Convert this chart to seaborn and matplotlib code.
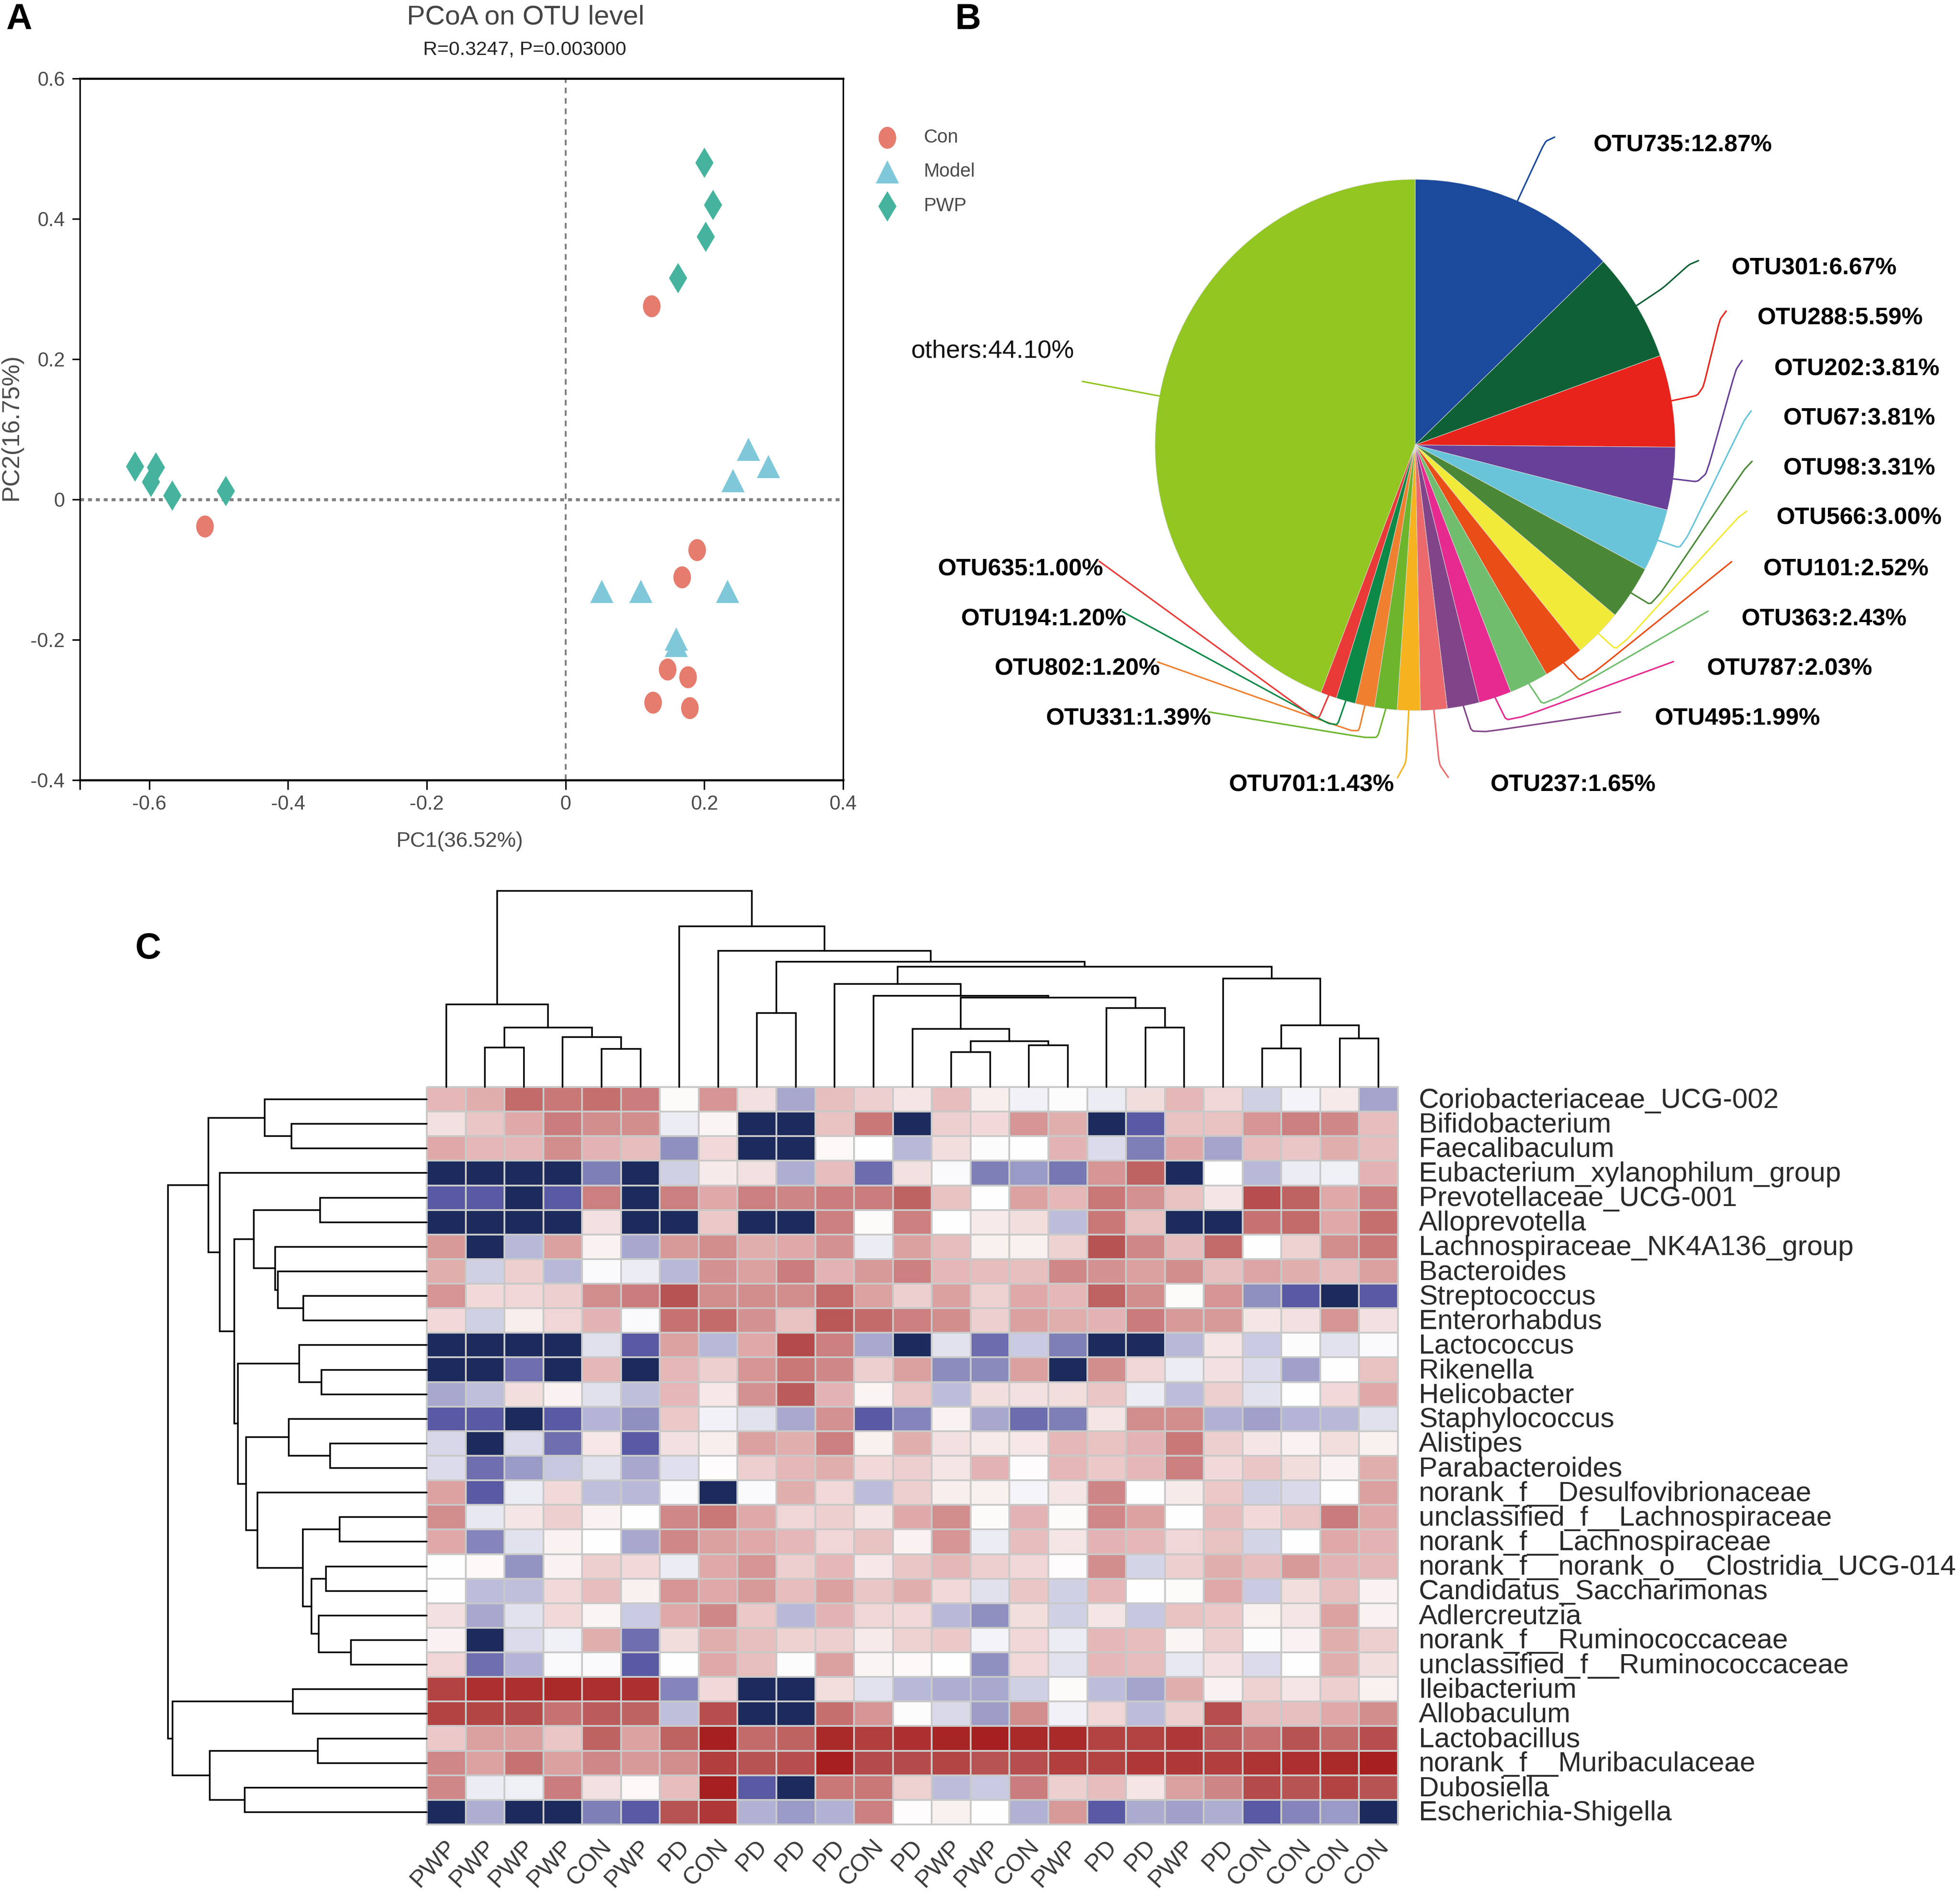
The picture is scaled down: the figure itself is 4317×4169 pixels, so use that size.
import matplotlib
matplotlib.use("Agg")
import numpy as np
import pandas as pd
import seaborn as sns
import matplotlib.pyplot as plt
from matplotlib.colors import LinearSegmentedColormap
from matplotlib.path import Path
from matplotlib.transforms import Affine2D, ScaledTranslation

# ---------- Panel A data ----------
con_pc1 = [0.124, -0.520, 0.189, 0.168, 0.147, 0.176, 0.126, 0.179]
con_pc2 = [0.276, -0.038, -0.072, -0.111, -0.242, -0.253, -0.289, -0.297]
model_pc1 = [0.263, 0.292, 0.241, 0.052, 0.108, 0.233, 0.159, 0.159]
model_pc2 = [0.072, 0.047, 0.027, -0.131, -0.131, -0.131, -0.199, -0.208]
pwp_pc1 = [0.200, 0.212, 0.202, 0.162, -0.621, -0.591, -0.598, -0.567, -0.490]
pwp_pc2 = [0.480, 0.420, 0.375, 0.316, 0.047, 0.046, 0.025, 0.006, 0.012]

# ---------- Panel B data ----------
pie_names = ["OTU735", "OTU301", "OTU288", "OTU202", "OTU67", "OTU98", "OTU566", "OTU101", "OTU363",
             "OTU787", "OTU495", "OTU237", "OTU701", "OTU331", "OTU802", "OTU194", "OTU635", "others"]
pie_values = [12.87, 6.67, 5.59, 3.81, 3.81, 3.31, 3.00, 2.52, 2.43,
              2.03, 1.99, 1.65, 1.43, 1.39, 1.20, 1.20, 1.00, 44.10]
pie_colors = ["#1b499c", "#0f6135", "#e8231b", "#674098", "#68c5d9", "#4a8837", "#f1ea38", "#ea4e17", "#70bd6d",
              "#e72a90", "#824488", "#ec6a6c", "#f6b31f", "#6cb52c", "#ef8030", "#0d8947", "#e93a38", "#92c620"]

# ---------- Panel C data ----------
taxa = ["Coriobacteriaceae_UCG-002", "Bifidobacterium", "Faecalibaculum", "Eubacterium_xylanophilum_group",
        "Prevotellaceae_UCG-001", "Alloprevotella", "Lachnospiraceae_NK4A136_group", "Bacteroides",
        "Streptococcus", "Enterorhabdus", "Lactococcus", "Rikenella", "Helicobacter", "Staphylococcus",
        "Alistipes", "Parabacteroides", "norank_f__Desulfovibrionaceae", "unclassified_f__Lachnospiraceae",
        "norank_f__Lachnospiraceae", "norank_f__norank_o__Clostridia_UCG-014", "Candidatus_Saccharimonas",
        "Adlercreutzia", "norank_f__Ruminococcaceae", "unclassified_f__Ruminococcaceae", "Ileibacterium",
        "Allobaculum", "Lactobacillus", "norank_f__Muribaculaceae", "Dubosiella", "Escherichia-Shigella"]
samples = ["PWP", "PWP", "PWP", "PWP", "CON", "PWP", "PD", "CON", "PD", "PD", "PD", "CON", "PD",
           "PWP", "PWP", "CON", "PWP", "PD", "PD", "PWP", "PD", "CON", "CON", "CON", "CON"]
heat_values = [
    [.30, .33, .62, .55, .60, .52, .02, .42, .12, -.38, .27, .20, .10, .28, .07, -.06, -.01, -.08, .14, .30, .17, -.20, -.05, .08, -.40],
    [.12, .24, .35, .52, .45, .45, -.08, .04, -1, -1, .25, .55, -1, .20, .15, .42, .33, -1, -.80, .25, .25, .42, .50, .47, .28],
    [.35, .30, .30, .45, .32, .28, -.50, .15, -1, -1, .03, .00, -.30, .13, -.01, .00, .32, -.15, -.58, .35, -.40, .28, .23, .33, .28],
    [-1, -1, -1, -1, -.58, -1, -.20, .08, .12, -.35, .28, -.68, .12, -.03, -.58, -.45, -.62, .42, .65, -1, .00, -.30, -.08, -.07, .32],
    [-.80, -.80, -1, -.80, .50, -1, .50, .35, .50, .48, .52, .52, .65, .25, .00, .37, .30, .55, .43, .25, .10, .75, .65, .35, .52],
    [-1, -1, -1, -1, .12, -1, -1, .22, -1, -1, .50, .02, .50, .00, .08, .13, -.28, .55, .25, -1, -1, .58, .62, .35, .60],
    [.40, -1, -.30, .38, .05, -.38, .40, .45, .33, .35, .43, -.08, .38, .28, .06, .06, .18, .72, .47, .28, .62, .00, .18, .45, .55],
    [.33, -.20, .20, -.30, -.02, -.08, -.30, .43, .38, .52, .32, .40, .50, .30, .28, .27, .47, .43, .38, .45, .27, .36, .33, .28, .38],
    [.42, .15, .17, .20, .45, .52, .72, .45, .45, .45, .62, .37, .20, .38, .18, .35, .30, .65, .45, .02, .42, -.50, -.80, -1, -.80],
    [.15, -.20, .07, .17, .32, -.02, .58, .62, .43, .25, .70, .62, .50, .45, .20, .38, .33, .32, .53, .40, .40, .10, .12, .42, .12],
    [-1, -1, -1, -1, -.13, -.80, .37, -.30, .35, .78, .50, -.37, -1, -.12, -.68, -.22, -.58, -1, -1, -.30, .10, -.22, -.01, -.12, -.02],
    [-1, -1, -.67, -1, .30, -1, .30, .20, .42, .55, .47, .20, .38, -.52, -.53, .38, -1, .45, .17, -.08, .12, -.15, -.42, .00, .25],
    [-.38, -.27, .13, .05, -.13, -.27, .30, .09, .43, .68, .32, .04, .24, -.28, .13, .12, .13, .24, -.08, -.28, .20, -.12, .00, .15, .35],
    [-.80, -.80, -1, -.80, -.32, -.50, .22, -.06, -.12, -.37, .43, -.80, -.55, .05, -.38, -.68, -.58, .10, .45, .45, -.33, -.42, -.32, -.30, -.13],
    [-.17, -1, -.15, -.67, .09, -.80, .12, .07, .38, .33, .50, .06, .33, .12, .08, .09, .30, .25, .32, .55, .20, .10, .05, .13, .06],
    [-.15, -.67, -.45, -.23, -.12, -.38, -.14, .01, .20, .30, .33, .15, .20, .10, .32, .01, .30, .22, .30, .50, .15, .23, .14, .05, .33],
    [.37, -.80, -.08, .15, -.27, -.30, -.02, -1, -.02, .33, .15, -.28, .20, .07, .06, -.04, .10, .48, .00, .08, .22, -.20, -.16, .00, .38],
    [.45, -.10, .10, .20, .05, .00, .47, .55, .35, .17, .20, .10, .35, .45, .02, .32, .02, .47, .37, .00, .28, .15, .24, .53, .35],
    [.35, -.55, -.12, .05, .00, -.38, .47, .38, .35, .30, .17, .25, .05, .42, -.08, .28, .10, .32, .30, .17, .25, -.18, .00, .35, .32],
    [.00, .03, -.48, .05, .20, .15, -.08, .35, .42, .20, .30, .09, .23, .30, .20, .17, .01, .45, -.18, .20, .33, .28, .40, .32, .30],
    [.00, -.28, -.27, .15, .28, .06, .42, .35, .40, .28, .38, .23, .33, .15, -.13, .24, -.20, .30, .00, .02, .35, -.22, .13, .27, .05],
    [.12, -.38, -.12, .15, .04, -.22, .35, .47, .22, -.30, .32, .17, .15, -.30, -.50, .13, -.20, .10, -.24, .25, .22, .06, .10, .37, .05],
    [.05, -1, -.15, -.07, .33, -.67, .14, .33, .27, .18, .20, .08, .18, .22, -.05, .17, -.08, .30, .28, .04, .20, -.01, .05, .33, .20],
    [.17, -.67, -.32, -.03, -.02, -.80, .00, .35, .27, -.01, .38, .04, .03, .00, -.50, .15, -.12, .30, .28, -.10, .12, -.15, .00, .33, .13],
    [.82, .92, .92, .95, .92, .92, -.55, .15, -1, -1, .13, -.12, -.30, -.35, -.37, -.20, .02, -.28, -.40, .33, .05, .18, .10, .20, .06],
    [.82, .80, .78, .58, .68, .65, -.27, .75, -1, -1, .60, .42, -.01, -.16, -.43, .45, -.06, .17, -.28, .20, .75, .27, .27, .35, .45],
    [.22, .38, .38, .24, .65, .37, .65, 1, .62, .65, .95, .85, .92, .97, 1, .95, .95, .82, .82, .88, .68, .58, .72, .62, .75],
    [.47, .37, .58, .38, .47, .40, .45, .85, .72, .75, 1, .78, .78, .80, .72, .75, .85, .82, .88, .88, .85, .90, .92, .95, 1],
    [.47, -.08, -.07, .52, .12, .03, .28, 1, -.80, -1, .55, .55, .18, -.28, -.22, .52, .20, .28, .10, .38, .48, .78, .72, .82, .72],
    [-1, -.35, -1, -1, -.58, -.80, .72, .88, -.33, -.45, -.33, .50, .01, .06, .00, -.33, .40, -.80, -.36, -.42, -.35, -.80, -.55, -.45, -1],
]

# Dendrograms: (merge height, left child, right child); ints are leaf indices
col_tree = (432,
            (182, 0, (131, (87, 1, 2), (110, 3, (84, 4, 5)))),
            (354, 6, (300, 7, (276, (163, 8, 9),
                (265,
                 (227, 10, (201, 11, (197,
                     (128, 12, (101, (77, 13, 14), (92, 15, 16))),
                     (174, 17, (131, 18, 19))))),
                 (239, 20, (136, (85, 21, 22), (107, 23, 24))))))))
row_tree = (570,
            (481,
             (357, 0, (298, 1, 2)),
             (456, 3, (424,
                 (381, (235, 4, 5), (334, 6, (328, 7, (272, 8, 9)))),
                 (416,
                  (281, 10, (232, 11, 12)),
                  (398,
                   (304, 13, (213, 14, 15)),
                   (373, 16, (273, (192, 17, 18),
                       (254, (222, 19, 20), (238, 21, (167, 22, 23)))))))))),
            (560,
             (295, 24, 25),
             (478, (240, 26, 27), (401, 28, 29))))

# ---------- Layout (pixels in the 4317x4169 canvas) ----------
W, H = 4317, 4169
DPI = 300
sns.set_theme(style="white")
plt.rcParams["font.family"] = ["Liberation Sans", "DejaVu Sans"]
plt.rcParams["axes.unicode_minus"] = False
fig = plt.figure(figsize=(W / DPI, H / DPI), dpi=DPI, facecolor="white")


def px_axes(l, t, r, b, **kw):
    return fig.add_axes([l / W, 1 - b / H, (r - l) / W, (b - t) / H], **kw)


overlay = px_axes(0, 0, W, H, facecolor="none")
overlay.set_xlim(0, W)
overlay.set_ylim(H, 0)
overlay.axis("off")
overlay.set_zorder(10)

# ---------- Panel A ----------
ax = px_axes(176, 173, 1857, 1718)
GREY = "#4a4a4a"
tall_circle = Path.unit_circle().transformed(Affine2D().scale(0.84, 1.05))
sns.scatterplot(x=con_pc1, y=con_pc2, ax=ax, color="#e57c6e", marker=tall_circle, s=135, linewidth=0, label="Con", zorder=3)
sns.scatterplot(x=model_pc1, y=model_pc2, ax=ax, color="#7fc8da", marker="^", s=150, linewidth=0, label="Model", zorder=3)
sns.scatterplot(x=pwp_pc1, y=pwp_pc2, ax=ax, color="#45b39d", marker="d", s=128, linewidth=0, label="PWP", zorder=3)
ax.axhline(0, color="#808080", lw=1.6, ls=(0, (1.3, 1.3)), zorder=1)
ax.axvline(0, color="#808080", lw=1.0, ls=(0, (3, 2.5)), zorder=1)
ax.set_xlim(-0.7, 0.4)
ax.set_ylim(-0.4, 0.6)
ax.set_xticks([-0.7, -0.6, -0.4, -0.2, 0, 0.2, 0.4])
ax.set_xticklabels(["", "-0.6", "-0.4", "-0.2", "0", "0.2", "0.4"])
ax.set_yticks([-0.4, -0.2, 0, 0.2, 0.4, 0.6])
ax.set_yticklabels(["-0.4", "-0.2", "0", "0.2", "0.4", "0.6"])
ax.tick_params(axis="x", length=5, width=0.8, color="black", labelcolor=GREY, labelsize=10.5, pad=3, bottom=True)
ax.tick_params(axis="y", length=4, width=0.8, color="black", labelcolor=GREY, labelsize=10.5, pad=4, left=True)
for name, sp in ax.spines.items():
    sp.set_visible(True)
    sp.set_color("black")
    sp.set_linewidth(1.1 if name in ("top", "bottom") else 0.8)
handles, labels = ax.get_legend_handles_labels()
ax.legend(handles, labels, loc="upper left", bbox_to_anchor=(1912 / W, 1 - 283 / H), bbox_transform=fig.transFigure,
          frameon=False, fontsize=10, labelcolor=GREY, labelspacing=0.85, borderpad=0, borderaxespad=0,
          handlelength=2, handletextpad=0.95, scatterpoints=1)
overlay.text(1158, 38, "PCoA on OTU level", fontsize=14.5, color="#444444", ha="center", va="center")
overlay.text(1156, 109, "R=0.3247, P=0.003000", fontsize=10.4, color="#222222", ha="center", va="center")
overlay.text(1012, 1853, "PC1(36.52%)", fontsize=11.2, color=GREY, ha="center", va="center")
overlay.text(25, 940, "PC2(16.75%)", fontsize=12.9, color=GREY, ha="center", va="center", rotation=90)

# ---------- Panel B ----------
CX, CY, RX, RY = 3117, 980, 573, 585
pad = 1.05
axp = px_axes(CX - RX * pad, CY - RY * pad, CX + RX * pad, CY + RY * pad)
axp.pie(pie_values, colors=pie_colors, startangle=90, counterclock=False, radius=1,
        wedgeprops=dict(linewidth=0.25, edgecolor="#dddddd"))
axp.set_aspect("auto")
axp.set_xlim(-pad, pad)
axp.set_ylim(-pad, pad)

# leader-line routing and label placement (canvas pixels; annotation layout)
leader_via = [
    [(3403, 312), (3424, 302)],
    [(3663, 634), (3720, 583), (3741, 574)],
    [(3738, 871), (3752, 851), (3788, 704), (3802, 685)],
    [(3738, 1061), (3759, 1042), (3823, 815), (3837, 794)],
    [(3704, 1208), (3841, 927), (3857, 905)],
    [(3639, 1334), (3841, 1035), (3859, 1016)],
    [(3562, 1433), (3827, 1141), (3847, 1126)],
    [(3484, 1503), (3814, 1237)],
    [(3400, 1555), (3762, 1346)],
    [(3320, 1591), (3686, 1457)],
    [(3243, 1616), (3569, 1568)],
    [(3170, 1683), (3190, 1712)],
    [(3097, 1678), (3078, 1713)],
    [(3034, 1624), (3004, 1624), (2663, 1568)],
    [(2993, 1609), (2975, 1609), (2550, 1458)],
    [(2946, 1596), (2924, 1593), (2472, 1347)],
    [(2905, 1581), (2891, 1578), (2421, 1236)],
    [(2384, 840)],
]
label_xy = [(3510, 315), (3814, 586), (3871, 696), (3908, 808), (3928, 917), (3928, 1027), (3913, 1136),
            (3884, 1249), (3836, 1359), (3760, 1468), (3645, 1578), (3283, 1724), (2707, 1724), (2304, 1578),
            (2191, 1468), (2117, 1359), (2066, 1249), (2007, 768)]


def smooth(pts, n=2, cut=0.1):
    pts = np.asarray(pts, float)
    for _ in range(n):
        q = (1 - cut) * pts[:-1] + cut * pts[1:]
        r = cut * pts[:-1] + (1 - cut) * pts[1:]
        mid = np.empty((2 * len(q), 2))
        mid[0::2], mid[1::2] = q, r
        pts = np.vstack([pts[0], mid, pts[-1]])
    return pts


mids = (np.cumsum(pie_values) - np.asarray(pie_values) / 2) / 100 * 2 * np.pi
for name, val, col, m, via, (lx, ly) in zip(pie_names, pie_values, pie_colors, mids, leader_via, label_xy):
    rim = (CX + RX * np.sin(m), CY - RY * np.cos(m))
    line = smooth([rim] + via)
    overlay.plot(line[:, 0], line[:, 1], color=col, lw=0.8, solid_capstyle="round")
    others = name == "others"
    overlay.text(lx, ly + 5, f"{name}:{val:.2f}%", fontsize=13.4 if others else 12.6, ha="left", va="center",
                 color="#111111" if others else "black", fontweight="normal" if others else "bold")

# ---------- Panel C ----------
cell_stops = [(-1, "#1c2b5c"), (-.8, "#5a5aa5"), (-.65, "#7272b2"), (-.5, "#9090c0"), (-.3, "#b8b8d8"),
              (-.2, "#d0d0e5"), (0, "#ffffff"), (.1, "#f5e5e5"), (.3, "#e5b8b8"), (.4, "#d89a9a"), (.5, "#cc8080"),
              (.6, "#c66f6f"), (.7, "#ba5858"), (.9, "#ae3434"), (1, "#a62020")]
cmap = LinearSegmentedColormap.from_list("pdheat", [((v + 1) / 2, c) for v, c in cell_stops])
HL, HT, HR, HB = 940, 2394, 3079, 4018
axh = px_axes(HL, HT, HR, HB)
frame = pd.DataFrame(heat_values, index=taxa)
sns.heatmap(frame, ax=axh, cmap=cmap, vmin=-1, vmax=1, cbar=False, linewidths=0.9, linecolor="#c9c9c9",
            xticklabels=samples, yticklabels=taxa, square=False, clip_on=False)
axh.yaxis.tick_right()
axh.tick_params(axis="y", length=0, pad=11, labelsize=14.75, labelcolor="#2a2a2a", labelrotation=0, right=False)
axh.tick_params(axis="x", length=0, pad=10, labelsize=12.8, labelcolor="#3a3a3a", bottom=False)
shift_x = ScaledTranslation(14 / DPI, 0, fig.dpi_scale_trans)
shift_y = ScaledTranslation(0, -3 / DPI, fig.dpi_scale_trans)
for t in axh.get_xticklabels():
    t.set(rotation=47, ha="right", va="center", rotation_mode="anchor")
    t.set_transform(t.get_transform() + shift_x)
for t in axh.get_yticklabels():
    t.set(va="center")
    t.set_transform(t.get_transform() + shift_y)


def draw_tree(node, ax_, horizontal):
    """Return (leaf-axis centre, height) of node, drawing its branches."""
    if isinstance(node, int):
        return node + 0.5, 0
    h, a, b = node
    pa, ha = draw_tree(a, ax_, horizontal)
    pb, hb = draw_tree(b, ax_, horizontal)
    along = [pa, pa, pb, pb]
    across = [ha, h, h, hb]
    if horizontal:
        ax_.plot(across, along, color="black", lw=0.85, solid_joinstyle="miter", clip_on=False)
    else:
        ax_.plot(along, across, color="black", lw=0.85, solid_joinstyle="miter", clip_on=False)
    return (pa + pb) / 2, h


axt = px_axes(HL, HT - 450, HR, HT, facecolor="none")
draw_tree(col_tree, axt, False)
axt.set_xlim(0, len(samples))
axt.set_ylim(0, 450)
axt.axis("off")

axl = px_axes(HL - 600, HT, HL, HB, facecolor="none")
draw_tree(row_tree, axl, True)
axl.set_xlim(600, 0)
axl.set_ylim(len(taxa), 0)
axl.axis("off")

# ---------- Panel letters ----------
for letter, x, y in [("A", 42, 44), ("B", 2132, 44), ("C", 326, 2091)]:
    overlay.text(x, y, letter, fontsize=19, fontweight="bold", color="black", ha="center", va="center")

fig.savefig("out.png", dpi=DPI, facecolor="white")
